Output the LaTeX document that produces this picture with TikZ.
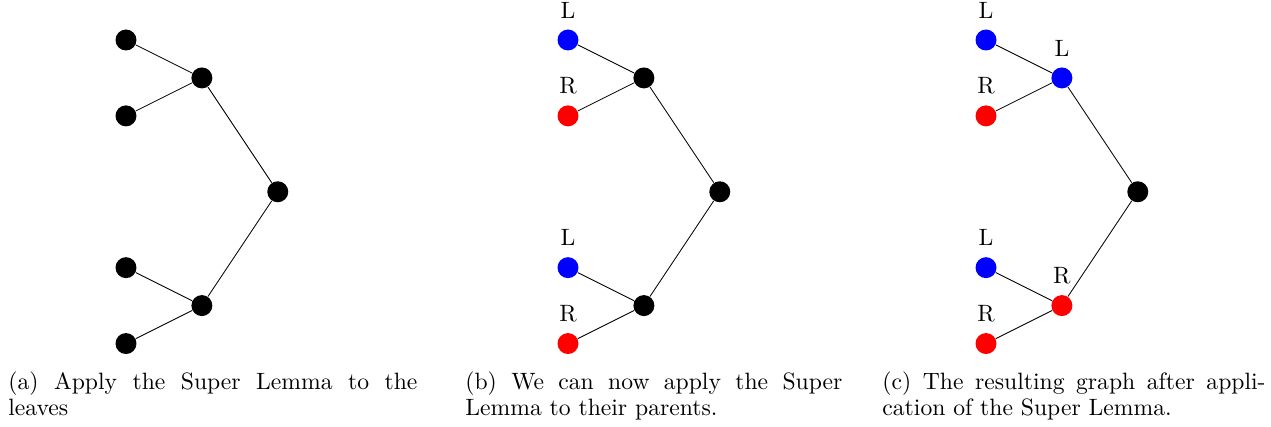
\documentclass[tikz,border=0pt]{standalone}
\usepackage{tikz}

\begin{document}
\begin{tikzpicture}[
  x=1.23cm, y=1.23cm,
  font=\fontsize{10.9}{12.3}\selectfont,
  vx/.style ={circle, fill=black, inner sep=0pt, minimum size=0.34cm},
  lv/.style ={vx, fill=blue, label={[label distance=1.5pt]above:L}},
  rv/.style ={vx, fill=red,  label={[label distance=1.5pt]above:R}},
  ln/.style ={draw=black, line width=0.4pt},
  captxt/.style={anchor=base west, inner sep=0pt, align=left}
]
\useasboundingbox (-2.042cm,0.648cm) rectangle (18.558cm,-6.272cm);

% (a) the plain tree
\begin{scope}
\node[vx] (a1) at (0,0)    {};
\node[vx] (a2) at (0,-1)   {};
\node[vx] (a3) at (0,-3)   {};
\node[vx] (a4) at (0,-4)   {};
\node[vx] (a5) at (1,-0.5) {};
\node[vx] (a6) at (1,-3.5) {};
\node[vx] (a7) at (2,-2)   {};
\draw[ln] (a1) -- (a5) -- (a2);
\draw[ln] (a3) -- (a6) -- (a4);
\draw[ln] (a5) -- (a7) -- (a6);
\end{scope}

% (b) leaves coloured
\begin{scope}[xshift=7.164cm]
\node[lv] (b1) at (0,0)    {};
\node[rv] (b2) at (0,-1)   {};
\node[lv] (b3) at (0,-3)   {};
\node[rv] (b4) at (0,-4)   {};
\node[vx] (b5) at (1,-0.5) {};
\node[vx] (b6) at (1,-3.5) {};
\node[vx] (b7) at (2,-2)   {};
\draw[ln] (b1) -- (b5) -- (b2);
\draw[ln] (b3) -- (b6) -- (b4);
\draw[ln] (b5) -- (b7) -- (b6);
\end{scope}

% (c) parents coloured too
\begin{scope}[xshift=13.939cm]
\node[lv] (c1) at (0,0)    {};
\node[rv] (c2) at (0,-1)   {};
\node[lv] (c3) at (0,-3)   {};
\node[rv] (c4) at (0,-4)   {};
\node[lv] (c5) at (1,-0.5) {};
\node[rv] (c6) at (1,-3.5) {};
\node[vx] (c7) at (2,-2)   {};
\draw[ln] (c1) -- (c5) -- (c2);
\draw[ln] (c3) -- (c6) -- (c4);
\draw[ln] (c5) -- (c7) -- (c6);
\end{scope}

% captions, base = last line
\node[captxt] (capa) at (-1.913cm,-6.094cm)
  {\makebox[6.63cm][s]{(a) Apply the Super Lemma to the}\\leaves};
\node[captxt] (capb) at (5.494cm,-6.094cm)
  {\makebox[6.11cm][s]{(b) We can now apply the Super}\\Lemma to their parents.};
\node[captxt] (capc) at (12.253cm,-6.094cm)
  {\makebox[6.21cm][s]{(c) The resulting graph after appli-}\\cation of the Super Lemma.};
\end{tikzpicture}
\end{document}
